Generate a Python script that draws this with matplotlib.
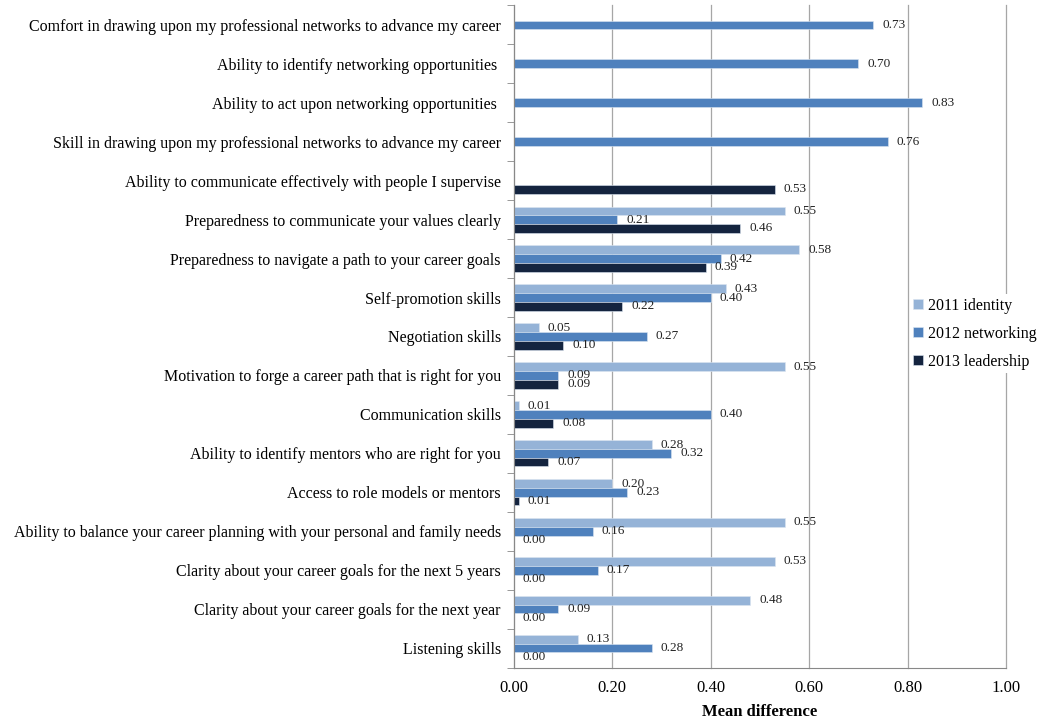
import numpy as np
import matplotlib.pyplot as plt

nan = np.nan

categories = [
    "Comfort in drawing upon my professional networks to advance my career",
    "Ability to identify networking opportunities ",
    "Ability to act upon networking opportunities ",
    "Skill in drawing upon my professional networks to advance my career",
    "Ability to communicate effectively with people I supervise",
    "Preparedness to communicate your values clearly",
    "Preparedness to navigate a path to your career goals",
    "Self-promotion skills",
    "Negotiation skills",
    "Motivation to forge a career path that is right for you",
    "Communication skills",
    "Ability to identify mentors who are right for you",
    "Access to role models or mentors",
    "Ability to balance your career planning with your personal and family needs",
    "Clarity about your career goals for the next 5 years",
    "Clarity about your career goals for the next year",
    "Listening skills",
]
identity_2011 = [nan, nan, nan, nan, nan, 0.55, 0.58, 0.43, 0.05, 0.55, 0.01, 0.28, 0.20, 0.55, 0.53, 0.48, 0.13]
networking_2012 = [0.73, 0.70, 0.83, 0.76, nan, 0.21, 0.42, 0.40, 0.27, 0.09, 0.40, 0.32, 0.23, 0.16, 0.17, 0.09, 0.28]
leadership_2013 = [nan, nan, nan, nan, 0.53, 0.46, 0.39, 0.22, 0.10, 0.09, 0.08, 0.07, 0.01, 0.00, 0.00, 0.00, 0.00]

series = [
    ("2011 identity", identity_2011, "#95b3d7"),
    ("2012 networking", networking_2012, "#4f81bd"),
    ("2013 leadership", leadership_2013, "#14243f"),
]

plt.rcParams["font.family"] = ["Liberation Serif", "DejaVu Serif"]

fig = plt.figure(figsize=(10.4, 7.19), dpi=100)
ax = fig.add_axes([0.4942, 0.0716, 0.4731, 0.9208])

n = len(categories)
y = np.arange(n)
h = 0.225
for i, (name, vals, col) in enumerate(series):
    vals = np.array(vals, dtype=float)
    pos = y + (i - 1) * h
    ax.barh(pos, vals, height=h, color=col, edgecolor="#dbe5f1", linewidth=0.4, label=name)
    for p, v in zip(pos, vals):
        if np.isnan(v):
            continue
        ax.annotate("%.2f" % v, (v, p), xytext=(6.5, 0), textcoords="offset points",
                    ha="left", va="center", fontsize=9.5, color="#222222")

ax.set_xlim(0, 1.0)
ax.set_ylim(n - 0.5, -0.5)
ticks = np.arange(0, 1.01, 0.2)
ax.set_xticks(ticks)
ax.set_xticklabels(["%.2f" % t for t in ticks], fontsize=12)
ax.set_yticks(y)
ax.set_yticklabels(categories, fontsize=11.5)
ax.tick_params(axis="y", length=0, pad=9.5)
ax.tick_params(axis="x", length=0, pad=9)
ax.set_yticks(np.arange(-0.5, n, 1.0), minor=True)
ax.tick_params(axis="y", which="minor", length=5, color="#888888")

ax.grid(axis="x", color="#a6a6a6", linewidth=0.9)
for gl in ax.get_xgridlines():
    gl.set_clip_on(False)
ax.set_axisbelow(True)
for s in ["top", "right"]:
    ax.spines[s].set_visible(False)
ax.spines["left"].set_color("#888888")
ax.spines["bottom"].set_color("#888888")

ax.set_xlabel("Mean difference", fontsize=12, fontweight="bold", labelpad=6)

leg = fig.legend(loc="center left", bbox_to_anchor=(0.875, 0.536), frameon=True, fontsize=11.5,
                 handlelength=0.6, handleheight=0.6, handletextpad=0.3, labelspacing=0.75,
                 borderpad=0.2, borderaxespad=0)
leg.get_frame().set_edgecolor("none")
leg.get_frame().set_facecolor("white")
leg.get_frame().set_alpha(1)

fig.savefig("out.png", dpi=100)
